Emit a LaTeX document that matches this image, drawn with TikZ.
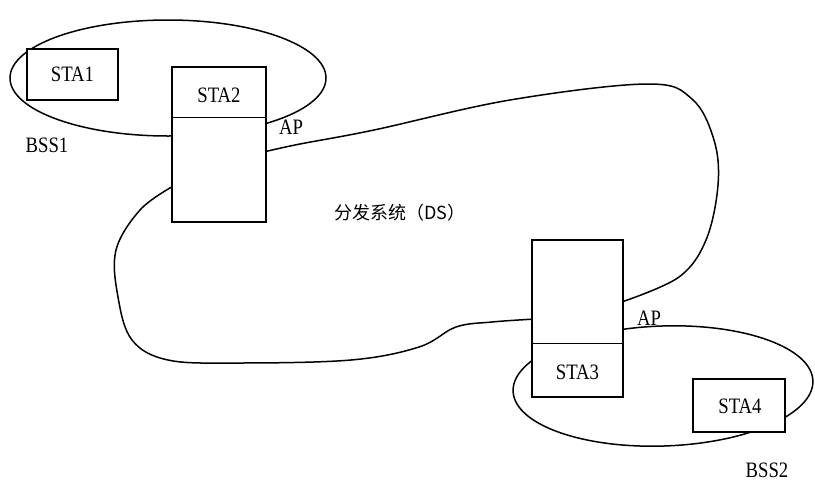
\documentclass[tikz,border=0pt]{standalone}
\usepackage{fontspec}
\setmainfont{Liberation Serif}
\newfontfamily\lblfont[FakeStretch=0.85]{Liberation Serif}
\newfontfamily\cjkfont{Noto Sans CJK SC}
\usetikzlibrary{calc}
\begin{document}
\begin{tikzpicture}[x=1pt,y=-1pt, line width=1.5pt,
  box/.style={draw, fill=white, rectangle, inner sep=0pt},
  lbl/.style={font=\lblfont\fontsize{22}{22}\selectfont, inner sep=0pt},
  bss/.style={draw, line width=1.5pt},
  ds/.style={draw, line width=1.5pt}]
\useasboundingbox (0,0) rectangle (815,483);

% BSS ellipses
\draw[bss] (168,78) ellipse [x radius=158pt, y radius=58pt];
\draw[bss, rotate around={2:(663,386)}] (663,386) ellipse [x radius=150pt, y radius=60pt];

% boxes
\node[box, minimum width=91pt, minimum height=51pt] (sta1) at (72.5,74.5) {};
\node[box, minimum width=94pt, minimum height=155pt] (ap1) at (219,144.5) {};
\node[box, minimum width=91pt, minimum height=157pt] (ap2) at (577.5,318.5) {};
\node[box, minimum width=92pt, minimum height=53pt] (sta4) at (739,405.5) {};

\draw ($(ap1.north west)+(0,51)$) -- ($(ap1.north east)+(0,51)$);
\draw ($(ap2.north west)+(0,104)$) -- ($(ap2.north east)+(0,104)$);

% DS attachment points
\coordinate (a1r) at ($(ap1.north east)+(0,85)$);
\coordinate (a1l) at ($(ap1.north west)+(0,121)$);
\coordinate (a2r) at ($(ap2.north east)+(0,62)$);
\coordinate (a2l) at ($(ap2.north west)+(0,80)$);

% distribution system outline
\draw[ds] plot[smooth, tension=0.6] coordinates {(a1r) (300,144) (374,130) (510,100) (647,84) (692,99) (714,140) (718,185) (706,240) (679,277) (a2r)};
\draw[ds] plot[smooth, tension=0.6] coordinates {(a1l) (140,210) (116,250) (118,297) (132,340) (168,360) (237,363) (351,360) (419,347) (456,327) (492,322) (a2l)};

% labels
\node[lbl] (t1) at (sta1.center) {STA1};
\node[lbl] (t2) at (219,95) {STA2};
\node[lbl] (t3) at (577.5,372) {STA3};
\node[lbl] (t4) at (740,406) {STA4};
\node[lbl] (ap1l) at (291,127) {AP};
\node[lbl] (ap2l) at (649,318) {AP};
\node[lbl] (b1) at (47,145) {BSS1};
\node[lbl] (b2) at (767,470) {BSS2};
\node[inner sep=0pt, font=\cjkfont\fontsize{18}{18}\selectfont] (dsl) at (400,213) {分发系统（DS）};
\end{tikzpicture}
\end{document}
